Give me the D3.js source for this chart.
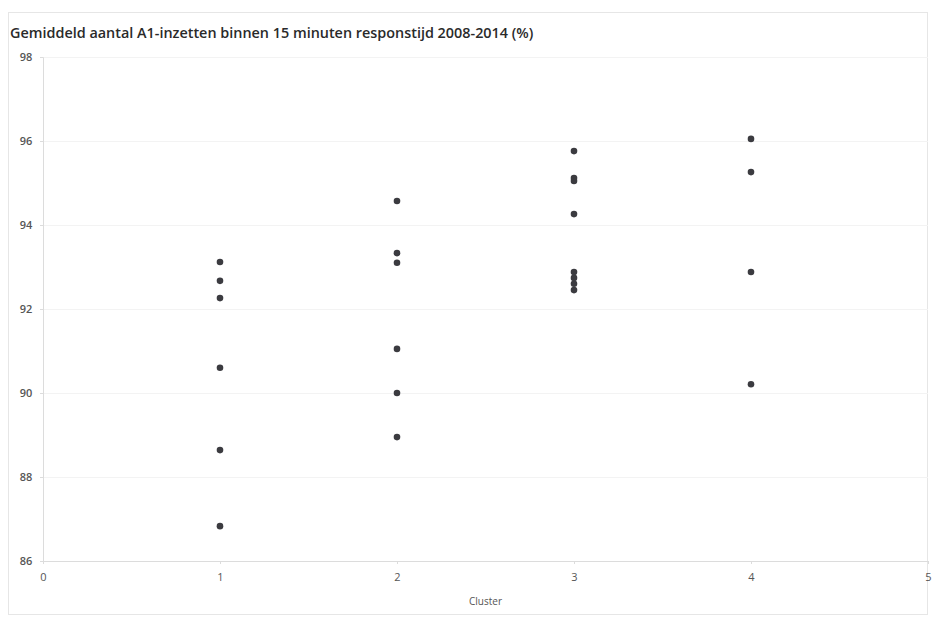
<!DOCTYPE html>
<html><head><meta charset="utf-8">
<script src="https://cdn.jsdelivr.net/npm/d3@7"></script>
<style>body{margin:0;background:#fff}svg{display:block}</style>
</head><body><svg id="c" width="932" height="619"></svg>
<script>
const title = "Gemiddeld aantal A1-inzetten binnen 15 minuten responstijd 2008-2014 (%)";
const xLabel = "Cluster";
const xTicks = [0,1,2,3,4,5];
const yTicks = [86,88,90,92,94,96,98];
const cluster1 = [93.12, 92.67, 92.26, 90.6, 88.64, 86.83];
const cluster2 = [94.57, 93.33, 93.1, 91.05, 90.0, 88.95];
const cluster3 = [95.76, 95.12, 95.05, 94.26, 92.88, 92.74, 92.6, 92.45];
const cluster4 = [96.05, 95.26, 92.88, 90.21];
const clusters = [1,2,3,4];
const seriesValues = [cluster1, cluster2, cluster3, cluster4];

const points = [];
clusters.forEach((c,i)=>seriesValues[i].forEach(v=>points.push({c, v})));

const svg = d3.select("#c");
const m = {l:43, r:4, t:57, b:58};
const W = 932, H = 619;
const x = d3.scaleLinear().domain([0,5]).range([m.l, W-m.r]);
const y = d3.scaleLinear().domain([86,98]).range([H-m.b, m.t]);

// outer frame
svg.append("rect").attr("x",8.5).attr("y",12.5).attr("width",919).attr("height",602)
  .attr("fill","none").attr("stroke","#e6e6e6").attr("stroke-width",1);

// gridlines
svg.append("g").selectAll("line").data(yTicks.slice(1)).join("line")
  .attr("x1",x(0)).attr("x2",x(5)).attr("y1",d=>Math.round(y(d))+0.5).attr("y2",d=>Math.round(y(d))+0.5)
  .attr("stroke","#f3f3f3");

// y axis
const yAxis = svg.append("g").attr("transform",`translate(${x(0)},0)`)
  .call(d3.axisLeft(y).tickValues(yTicks).tickSize(3).tickFormat(d3.format("d")));
yAxis.select(".domain").attr("stroke","#dcdcdc");
yAxis.selectAll(".tick line").attr("stroke","#dcdcdc");
yAxis.selectAll("text").attr("x",-17).attr("dy","0.32em").attr("text-anchor","middle")
  .attr("fill","#555").style("font-family","Open Sans, sans-serif").style("font-size","11px").style("font-weight","600");

// x axis
const xAxis = svg.append("g").attr("transform",`translate(0,${y(86)})`)
  .call(d3.axisBottom(x).tickValues(xTicks).tickSize(3).tickFormat(d3.format("d")));
xAxis.select(".domain").attr("stroke","#dcdcdc");
xAxis.selectAll(".tick line").attr("stroke","#dcdcdc");
xAxis.selectAll("text").attr("y",12).attr("fill","#555")
  .style("font-family","Open Sans, sans-serif").style("font-size","11px");

svg.append("text").attr("x",(x(0)+x(5))/2).attr("y",605).attr("text-anchor","middle")
  .attr("fill","#555").style("font-family","Open Sans, sans-serif").style("font-size","10px").text(xLabel);

svg.append("text").attr("x",10).attr("y",38).attr("fill","#2a2a2a")
  .style("font-family","Open Sans, sans-serif").style("font-size","14.4px").style("font-weight","600").text(title);

// points
svg.append("g").selectAll("circle").data(points).join("circle")
  .attr("cx",d=>x(d.c)).attr("cy",d=>y(d.v)).attr("r",3.3).attr("fill","#3b3b40");
</script></body></html>
